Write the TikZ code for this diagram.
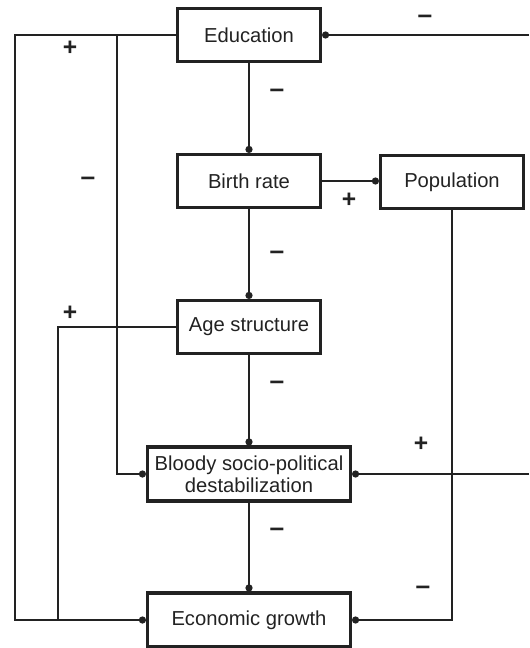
\documentclass[tikz,border=0pt]{standalone}
\usepackage{fontspec}
\setmainfont{Liberation Sans}
\usetikzlibrary{arrows.meta}
\definecolor{ink}{RGB}{34, 34, 34}
\tikzstyle{box}=[rectangle,draw=ink,text=ink,line width=1.8pt,align=center,
  font=\fontsize{11.5}{12.5}\selectfont,minimum width=2.86cm,minimum height=1.06cm]
\tikzstyle{wide}=[box,minimum width=4.06cm,minimum height=1.08cm,inner sep=1pt]
\tikzstyle{sign}=[text=ink,font=\bfseries\fontsize{14}{14}\selectfont,inner sep=0pt]
\tikzstyle{minus}=[sign,font=\bfseries\fontsize{15}{15}\selectfont]
\tikzstyle{link}=[draw=ink,line width=1.6pt,-{Circle[length=4pt,width=4pt]}]
\tikzstyle{none}=[]

\begin{document}
\begin{tikzpicture}[x=0.02cm,y=-0.02cm]
            \useasboundingbox (0, 0) rectangle (529, 648);
            \node [style=box] (0) at (249, 35) {Education};
            \node [style=box] (1) at (249, 181) {Birth rate};
            \node [style=box] (2) at (452, 182) {Population};
            \node [style=box] (3) at (249, 327) {Age structure};
            \node [style=wide] (4) at (249, 474) {Bloody socio-political\\destabilization};
            \node [style=wide] (5) at (249, 620) {Economic growth};
            \node [style=none] (10) at (15, 35) {};
            \node [style=none] (11) at (15, 620) {};
            \node [style=none] (12) at (117, 35) {};
            \node [style=none] (13) at (117, 474) {};
            \node [style=none] (14) at (58, 327) {};
            \node [style=none] (15) at (58, 620) {};
            \node [style=none] (16) at (452, 620) {};
            \node [style=none] (17) at (529, 35) {};
            \node [style=none] (18) at (529, 474) {};
            \node [style=minus] (20) at (425, 19) {–};
            \node [style=sign] (21) at (70, 48) {+};
            \node [style=minus] (22) at (277, 93) {–};
            \node [style=minus] (23) at (88, 181) {–};
            \node [style=sign] (24) at (349, 200) {+};
            \node [style=minus] (25) at (277, 255) {–};
            \node [style=sign] (26) at (70, 313) {+};
            \node [style=minus] (27) at (277, 385) {–};
            \node [style=sign] (28) at (421, 444) {+};
            \node [style=minus] (29) at (277, 532) {–};
            \node [style=minus] (30) at (423, 590) {–};
            \draw [style=link] (0) to (1);
            \draw [style=link] (1) to (3);
            \draw [style=link] (3) to (4);
            \draw [style=link] (4) to (5);
            \draw [style=link] (1) to (2.west |- 1);
            \draw [style=link] (2) -- (16.center) -- (5);
            \draw [style=link] (17.center) to (0);
            \draw [style=link] (18.center) to (4);
            \draw [style=link] (0) -- (10.center) -- (11.center) -- (5);
            \draw [style=link] (12.center) -- (13.center) -- (4);
            \draw [draw=ink, line width=1.6pt] (3) -- (14.center) -- (15.center);
\end{tikzpicture}
\end{document}
